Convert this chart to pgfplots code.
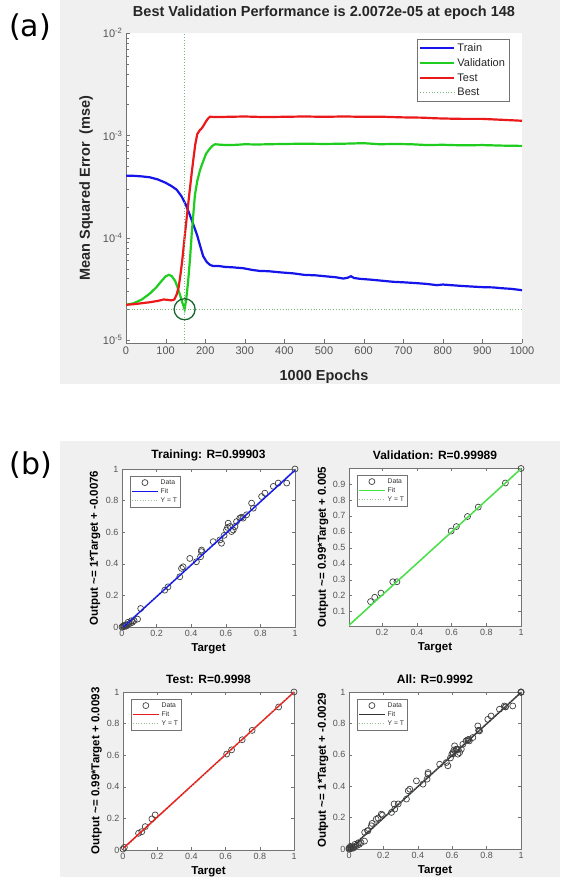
\documentclass[border=0pt]{standalone}
\usepackage{fontspec}
\setmainfont{Liberation Sans}
\newfontfamily\labfont{DejaVu Sans}
\usepackage{pgfplots}
\usepackage{pgfplotstable}
\pgfplotsset{compat=1.18}

\definecolor{bggray}{RGB}{240,240,240}
\definecolor{axgray}{RGB}{115,115,115}
\definecolor{tkgray}{RGB}{85,85,85}
\definecolor{mblue}{RGB}{20,20,235}
\definecolor{mgreen}{RGB}{30,205,30}
\definecolor{lgreen}{RGB}{60,230,60}
\definecolor{mred}{RGB}{235,25,25}
\definecolor{bestc}{RGB}{120,185,120}
\definecolor{circc}{RGB}{25,100,45}
\definecolor{ytc}{RGB}{150,190,150}

% ---------- performance curves ----------
\pgfplotstableread{
e v
0 4.05e-4
20 4.03e-4
40 3.98e-4
60 3.9e-4
80 3.72e-4
100 3.45e-4
115 3.2e-4
128 2.95e-4
140 2.55e-4
150 2.15e-4
160 1.72e-4
170 1.35e-4
180 1.05e-4
187 8.4e-5
195 6.6e-5
204 5.8e-5
212 5.45e-5
220 5.3e-5
235 5.3e-5
250 5.2e-5
270 5.15e-5
296 5.05e-5
320 4.85e-5
338 4.75e-5
360 4.72e-5
390 4.6e-5
422 4.5e-5
450 4.35e-5
480 4.3e-5
507 4.2e-5
530 4.12e-5
549 4.0e-5
560 4.08e-5
568 4.22e-5
576 4.05e-5
591 3.98e-5
620 3.9e-5
650 3.8e-5
675 3.72e-5
700 3.68e-5
730 3.62e-5
759 3.55e-5
785 3.45e-5
800 3.5e-5
843 3.4e-5
870 3.35e-5
900 3.3e-5
927 3.28e-5
950 3.22e-5
975 3.17e-5
1000 3.08e-5
}\trainperf

\pgfplotstableread{
e v
0 2.22e-5
20 2.3e-5
40 2.5e-5
60 2.85e-5
77 3.3e-5
90 3.8e-5
100 4.2e-5
108 4.35e-5
115 4.25e-5
124 3.8e-5
130 3.3e-5
136 2.8e-5
142 2.35e-5
148 2.0072e-5
152 2.5e-5
157 3.8e-5
162 6.5e-5
166 1.1e-4
170 1.7e-4
174 2.6e-4
180 3.6e-4
187 4.6e-4
195 5.6e-4
202 6.6e-4
210 7.3e-4
218 7.9e-4
225 8.2e-4
240 8.1e-4
260 8.05e-4
280 8.1e-4
300 8.2e-4
330 8.15e-4
360 8.2e-4
400 8.25e-4
450 8.3e-4
500 8.25e-4
550 8.3e-4
600 8.4e-4
640 8.2e-4
680 8.25e-4
720 8.2e-4
760 8.05e-4
800 8.1e-4
850 8.0e-4
900 8.05e-4
950 7.95e-4
1000 7.9e-4
}\valperf

\pgfplotstableread{
e v
0 2.22e-5
20 2.25e-5
40 2.3e-5
60 2.35e-5
80 2.42e-5
95 2.5e-5
105 2.48e-5
115 2.45e-5
122 2.5e-5
128 2.8e-5
133 3.3e-5
138 4.5e-5
142 6.0e-5
146 8.5e-5
150 1.2e-4
155 1.8e-4
160 2.7e-4
165 4.0e-4
170 5.8e-4
175 8.2e-4
180 1.03e-3
186 1.12e-3
191 1.17e-3
196 1.25e-3
202 1.37e-3
207 1.46e-3
212 1.52e-3
230 1.51e-3
260 1.52e-3
300 1.53e-3
350 1.51e-3
400 1.52e-3
450 1.53e-3
500 1.52e-3
550 1.53e-3
600 1.52e-3
650 1.52e-3
700 1.5e-3
750 1.49e-3
780 1.47e-3
810 1.46e-3
850 1.45e-3
900 1.45e-3
950 1.42e-3
1000 1.39e-3
}\testperf

% ---------- regression data ----------
\pgfplotstableread{
t o
0.0 0.0
0.005 0.005
0.01 0.008
0.012 0.002
0.015 0.012
0.02 0.01
0.025 0.006
0.03 0.015
0.035 0.03
0.04 0.02
0.05 0.025
0.055 0.04
0.06 0.03
0.07 0.04
0.09 0.05
0.108 0.117
0.247 0.233
0.266 0.254
0.334 0.318
0.344 0.371
0.353 0.381
0.392 0.434
0.43 0.413
0.454 0.445
0.459 0.477
0.46 0.487
0.527 0.54
0.566 0.551
0.575 0.53
0.59 0.58
0.604 0.614
0.61 0.63
0.614 0.657
0.624 0.636
0.633 0.604
0.643 0.614
0.653 0.636
0.662 0.667
0.681 0.689
0.691 0.695
0.70 0.689
0.72 0.71
0.749 0.784
0.759 0.752
0.807 0.826
0.826 0.847
0.875 0.89
0.903 0.911
0.952 0.911
1 1
}\trainreg

\pgfplotstableread{
t o
0.134 0.163
0.158 0.19
0.194 0.216
0.262 0.287
0.286 0.287
0.598 0.605
0.628 0.633
0.692 0.696
0.754 0.755
0.91 0.906
1 0.997
}\valreg

\pgfplotstableread{
t o
0.0 0.006
0.008 0.017
0.091 0.106
0.11 0.116
0.13 0.148
0.169 0.197
0.188 0.222
0.606 0.607
0.635 0.634
0.697 0.698
0.755 0.757
0.91 0.905
1 1
}\testreg

\pgfplotsset{
  regp/.style={
    scale only axis,
    axis background/.style={fill=white},
    axis line style={axgray},
    tick style={axgray, thin},
    tick align=inside,
    major tick length=3pt,
    ticklabel style={font=\fontsize{9}{10}\selectfont, text=tkgray},
    /pgf/number format/assume math mode=true,
    title style={font=\bfseries\fontsize{12}{13}\selectfont, at={(axis description cs:0.5,1.045)}, anchor=center, inner sep=0pt},
    label style={font=\bfseries\fontsize{11.5}{12}\selectfont},
    xlabel={Target},
    x label style={at={(axis description cs:0.5,-0.14)}, anchor=center, inner sep=0pt},
    y label style={at={(axis description cs:-0.155,0.5)}, anchor=center, inner sep=0pt},
    clip mode=individual,
    legend style={at={(axis description cs:0.045,0.955)}, anchor=north west,
      font=\fontsize{6.8}{7.5}\selectfont, draw=axgray, inner sep=1.2pt,
      row sep=-1.2pt, cells={anchor=west}, text=black!80},
    legend cell align=left,
  },
  scat/.style={only marks, mark=o, mark size=3pt, black!75, mark options={line width=0.7pt},
    legend image code/.code={\draw[##1] plot coordinates {(13pt,0pt)};}},
  lineleg/.style={legend image code/.code={\draw[##1] (0pt,0pt) -- (26pt,0pt);}},
}

\begin{document}
\begin{tikzpicture}[x=1pt,y=1pt]
\useasboundingbox (0,0) rectangle (560,877);
\fill[bggray] (60,493) rectangle (560,877);
\fill[bggray] (60,0) rectangle (560,436);
\node[font=\labfont\fontsize{30}{34}\selectfont] at (30,850) {(a)};
\node[font=\labfont\fontsize{30}{34}\selectfont] at (31,412) {(b)};

% ================= (a) performance =================
\begin{axis}[
  at={(126pt,534pt)}, anchor=south west,
  scale only axis, width=396pt, height=310pt,
  ymode=log, xmin=0, xmax=1000, ymin=9.4e-6, ymax=1e-2,
  axis lines*=left,
  axis background/.style={fill=white},
  axis line style={axgray, line width=0.8pt},
  tick style={axgray},
  tick align=inside,
  major tick length=4pt, minor tick length=2.5pt,
  xtick={0,100,...,1000},
  ytick={1e-5,1e-4,1e-3,1e-2},
  yticklabels={10\textsuperscript{-5},10\textsuperscript{-4},10\textsuperscript{-3},10\textsuperscript{-2}},
  /pgf/number format/1000 sep={},
  /pgf/number format/assume math mode=true,
  scaled ticks=false,
  ticklabel style={font=\fontsize{11}{12}\selectfont, text=tkgray},
  title={Best Validation Performance is 2.0072e-05 at epoch 148},
  title style={font=\bfseries\fontsize{14.5}{16}\selectfont, text=black!85, at={(axis description cs:0.5,1.045)}, anchor=center, inner sep=0pt},
  xlabel={1000 Epochs},
  ylabel={Mean Squared Error\ \ (mse)},
  label style={font=\bfseries\fontsize{14.5}{16}\selectfont, text=black!85},
  x label style={at={(axis description cs:0.5,-0.11)}, anchor=center, inner sep=0pt},
  y label style={at={(axis description cs:-0.101,0.5)}, anchor=center, inner sep=0pt},
  legend style={at={(axis description cs:0.735,0.98)}, anchor=north west,
    font=\fontsize{11}{12}\selectfont, draw=axgray, inner sep=2pt, row sep=1.6pt,
    cells={anchor=west}, text=black!85},
  legend image code/.code={\draw[#1] (0pt,0pt) -- (34pt,0pt);},
]
\addplot[mblue, line width=2.2pt] table[x=e,y=v] {\trainperf};
\addlegendentry{Train}
\addplot[mgreen, line width=2.2pt] table[x=e,y=v] {\valperf};
\addlegendentry{Validation}
\addplot[mred, line width=2.2pt] table[x=e,y=v] {\testperf};
\addlegendentry{Test}
\addplot[bestc, dotted, line width=0.8pt] coordinates {(148,9.4e-6) (148,1e-2)};
\addlegendentry{Best}
\addplot[bestc, dotted, line width=0.8pt, forget plot] coordinates {(0,2.0072e-5) (1000,2.0072e-5)};
\addplot[only marks, mark=o, mark size=10.5pt, circc, mark options={line width=1.3pt}, forget plot] coordinates {(148,2.0072e-5)};
\end{axis}

% ================= (b) regressions =================
\begin{axis}[regp, at={(122pt,250pt)}, anchor=south west, width=173pt, height=158pt,
  xmin=0, xmax=1, ymin=0, ymax=1,
  xtick={0,0.2,0.4,0.6,0.8,1}, ytick={0,0.2,0.4,0.6,0.8,1},
  title={Training: R=0.99903},
  ylabel={Output \textasciitilde= 1*Target + -0.0076}]
\addplot[scat] table[x=t,y=o] {\trainreg};
\addlegendentry{Data}
\addplot[mblue, line width=1.5pt, lineleg] coordinates {(0,-0.0076) (1,0.9924)};
\addlegendentry{Fit}
\addplot[ytc, dotted, line width=0.7pt, lineleg] coordinates {(0,0) (1,1)};
\addlegendentry{Y = T}
\end{axis}

\begin{axis}[regp, at={(349pt,251pt)}, anchor=south west, width=172pt, height=158pt,
  xmin=0.01, xmax=1, ymin=0.01, ymax=1,
  xtick={0.2,0.4,0.6,0.8,1}, ytick={0.1,0.2,0.3,0.4,0.5,0.6,0.7,0.8,0.9},
  title={Validation: R=0.99989},
  y label style={at={(axis description cs:-0.151,0.5)}},
  ylabel={Output \textasciitilde= 0.99*Target + 0.005}]
\addplot[scat] table[x=t,y=o] {\valreg};
\addlegendentry{Data}
\addplot[lgreen, line width=1.5pt, lineleg] coordinates {(0.01,0.0149) (1,0.995)};
\addlegendentry{Fit}
\addplot[ytc, dotted, line width=0.7pt, lineleg] coordinates {(0.01,0.01) (1,1)};
\addlegendentry{Y = T}
\end{axis}

\begin{axis}[regp, at={(123pt,27pt)}, anchor=south west, width=171pt, height=158pt,
  xmin=0, xmax=1, ymin=0, ymax=1,
  xtick={0,0.2,0.4,0.6,0.8,1}, ytick={0,0.2,0.4,0.6,0.8,1},
  title={Test: R=0.9998},
  ylabel={Output \textasciitilde= 0.99*Target + 0.0093}]
\addplot[scat] table[x=t,y=o] {\testreg};
\addlegendentry{Data}
\addplot[mred, line width=1.5pt, lineleg] coordinates {(0,0.0093) (1,0.9993)};
\addlegendentry{Fit}
\addplot[ytc, dotted, line width=0.7pt, lineleg] coordinates {(0,0) (1,1)};
\addlegendentry{Y = T}
\end{axis}

\begin{axis}[regp, at={(349pt,28pt)}, anchor=south west, width=172pt, height=157pt,
  xmin=0, xmax=1, ymin=0, ymax=1,
  xtick={0,0.2,0.4,0.6,0.8,1}, ytick={0,0.2,0.4,0.6,0.8,1},
  title={All: R=0.9992},
  y label style={at={(axis description cs:-0.151,0.5)}},
  ylabel={Output \textasciitilde= 1*Target + -0.0029}]
\addplot[scat] table[x=t,y=o] {\trainreg};
\addlegendentry{Data}
\addplot[black!80, line width=1.5pt, lineleg] coordinates {(0,-0.0029) (1,0.9971)};
\addlegendentry{Fit}
\addplot[ytc, dotted, line width=0.7pt, lineleg] coordinates {(0,0) (1,1)};
\addlegendentry{Y = T}
\addplot[scat, forget plot] table[x=t,y=o] {\valreg};
\addplot[scat, forget plot] table[x=t,y=o] {\testreg};
\end{axis}
\end{tikzpicture}
\end{document}
